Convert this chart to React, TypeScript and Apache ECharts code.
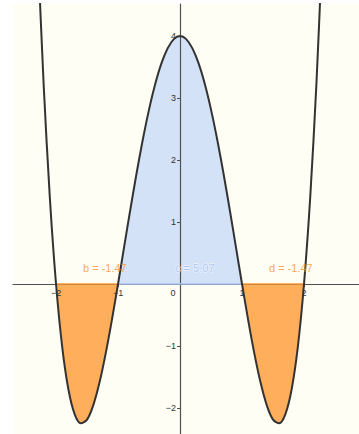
import React, { useEffect, useRef } from "react";
import * as echarts from "echarts";

// Points
const curveX = [
  -2.3, -2.2, -2.1, -2.0, -1.9, -1.8, -1.7, -1.6, -1.5, -1.4, -1.3, -1.2, -1.1, -1.0,
  -0.9, -0.8, -0.7, -0.6, -0.5, -0.4, -0.3, -0.2, -0.1, 0, 0.1, 0.2, 0.3, 0.4, 0.5,
  0.6, 0.7, 0.8, 0.9, 1.0, 1.1, 1.2, 1.3, 1.4, 1.5, 1.6, 1.7, 1.8, 1.9, 2.0, 2.1,
  2.2, 2.3,
];
const curveY = [
  5.534, 3.226, 1.398, 0, -1.018, -1.702, -2.098, -2.246, -2.188, -1.958, -1.594,
  -1.126, -0.586, 0, 0.606, 1.21, 1.79, 2.33, 2.813, 3.226, 3.558, 3.8, 3.95, 4,
  3.95, 3.8, 3.558, 3.226, 2.813, 2.33, 1.79, 1.21, 0.606, 0, -0.586, -1.126, -1.594,
  -1.958, -2.188, -2.246, -2.098, -1.702, -1.018, 0, 1.398, 3.226, 5.534,
];

// Shaded regions (integrals)
const regionNames = ["b", "c", "d"];
const regionStart = [-2, -1, 1];
const regionEnd = [-1, 1, 2];
const regionValues = [-1.47, 5.07, -1.47];

// Tick labels
const xTickValues = [-2, -1, 0, 1, 2];
const yTickValues = [-2, -1, 1, 2, 3, 4];

const X_MIN = -2.694;
const X_MAX = 2.887;
const Y_MIN = -2.419;
const Y_MAX = 4.516;

const BLUE_FILL = "#d4e2f8";
const BLUE_EDGE = "#a9c5f3";
const ORANGE_FILL = "#ffae5c";
const ORANGE_EDGE = "#ff9a38";
const ORANGE_TEXT = "#ff8f2a";
const BLUE_TEXT = "#94b6f1";
const FONT = "Liberation Sans, Arial, sans-serif";

const GRID_LEFT = 13;
const GRID_TOP = 4;
const W = 359;
const H = 434;

const fmt = (v: number) => (v < 0 ? "\u2212" + Math.abs(v) : String(v));

export default function App() {
  const ref = useRef<HTMLDivElement>(null);
  useEffect(() => {
    if (!ref.current) return;
    const chart = echarts.init(ref.current, undefined, { renderer: "svg" });
    const pts = curveX.map((x, i) => [x, curveY[i]]);
    const gridW = W - GRID_LEFT;
    const gridH = H - GRID_TOP;
    const xOffset = -((0 - Y_MIN) / (Y_MAX - Y_MIN)) * gridH;
    const yOffset = -((0 - X_MIN) / (X_MAX - X_MIN)) * gridW;

    const labelAnchors = [
      [-1.565, 0.26],
      [-0.08, 0.26],
      [1.435, 0.26],
    ];

    const fillSeries: any[] = [];
    regionNames.forEach((name, i) => {
      const isBlue = regionValues[i] > 0;
      const sub = pts.filter(
        (p) => p[0] >= regionStart[i] - 1e-9 && p[0] <= regionEnd[i] + 1e-9
      );
      fillSeries.push({
        type: "line",
        name: name + "_fill",
        data: sub,
        smooth: 0.3,
        symbol: "none",
        lineStyle: { opacity: 0, width: 0 },
        areaStyle: { color: isBlue ? BLUE_FILL : ORANGE_FILL, opacity: 1, origin: 0 },
        z: 1,
        silent: true,
      });
      fillSeries.push({
        type: "line",
        name: name + "_edge",
        data: [
          [regionStart[i], 0],
          [regionEnd[i], 0],
        ],
        symbol: "none",
        lineStyle: { color: isBlue ? BLUE_EDGE : ORANGE_EDGE, width: 1.6 },
        z: 3,
        silent: true,
      });
    });

    const option: any = {
      animation: false,
      backgroundColor: "#ffffff",
      grid: {
        left: GRID_LEFT,
        right: 0,
        top: GRID_TOP,
        bottom: 0,
        show: true,
        backgroundColor: "#fefef5",
        borderWidth: 0,
        containLabel: false,
        outerBoundsMode: "none",
      },
      xAxis: {
        type: "value",
        min: X_MIN,
        max: X_MAX,
        position: "bottom",
        offset: xOffset,
        splitLine: { show: false },
        axisLine: { onZero: false, lineStyle: { color: "#505050", width: 1.2 } },
        axisTick: { show: true, length: 3, customValues: xTickValues, lineStyle: { color: "#505050" } },
        axisLabel: {
          customValues: xTickValues,
          fontSize: 9,
          fontFamily: FONT,
          color: "#333",
          margin: 4,
          formatter: (v: number) => (v === 0 ? "{z|0}" : fmt(v)),
          rich: { z: { fontSize: 9, fontFamily: FONT, color: "#333", padding: [0, 14, 0, 0] } },
        },
        z: 2,
      },
      yAxis: {
        type: "value",
        min: Y_MIN,
        max: Y_MAX,
        position: "left",
        offset: yOffset,
        splitLine: { show: false },
        axisLine: { onZero: false, lineStyle: { color: "#505050", width: 1.2 } },
        axisTick: { show: true, length: 3, customValues: yTickValues, lineStyle: { color: "#505050" } },
        axisLabel: {
          customValues: yTickValues,
          fontSize: 9,
          fontFamily: FONT,
          color: "#333",
          margin: 4,
          formatter: (v: number) => fmt(v),
        },
        z: 3,
      },
      series: [
        ...fillSeries,
        {
          type: "line",
          name: "f",
          data: pts,
          smooth: 0.3,
          symbol: "none",
          lineStyle: { color: "#333333", width: 2 },
          z: 4,
          silent: true,
        },
        {
          type: "scatter",
          name: "labels",
          symbolSize: 0,
          z: 6,
          data: regionNames.map((n, i) => ({
            value: labelAnchors[i],
            label: {
              show: true,
              position: [0, 0],
              align: "left",
              verticalAlign: "middle",
              formatter: n + " = " + regionValues[i].toFixed(2),
              fontSize: 11,
              fontFamily: FONT,
              color: regionValues[i] > 0 ? BLUE_TEXT : ORANGE_TEXT,
              textBorderColor: regionValues[i] > 0 ? "#ffffff" : "transparent",
              textBorderWidth: regionValues[i] > 0 ? 1 : 0,
            },
          })),
          silent: true,
        },
      ],
    };
    chart.setOption(option);
    return () => chart.dispose();
  }, []);
  return (
    <div
      ref={ref}
      style={{ position: "absolute", left: 0, top: 0, width: W, height: H }}
    />
  );
}
